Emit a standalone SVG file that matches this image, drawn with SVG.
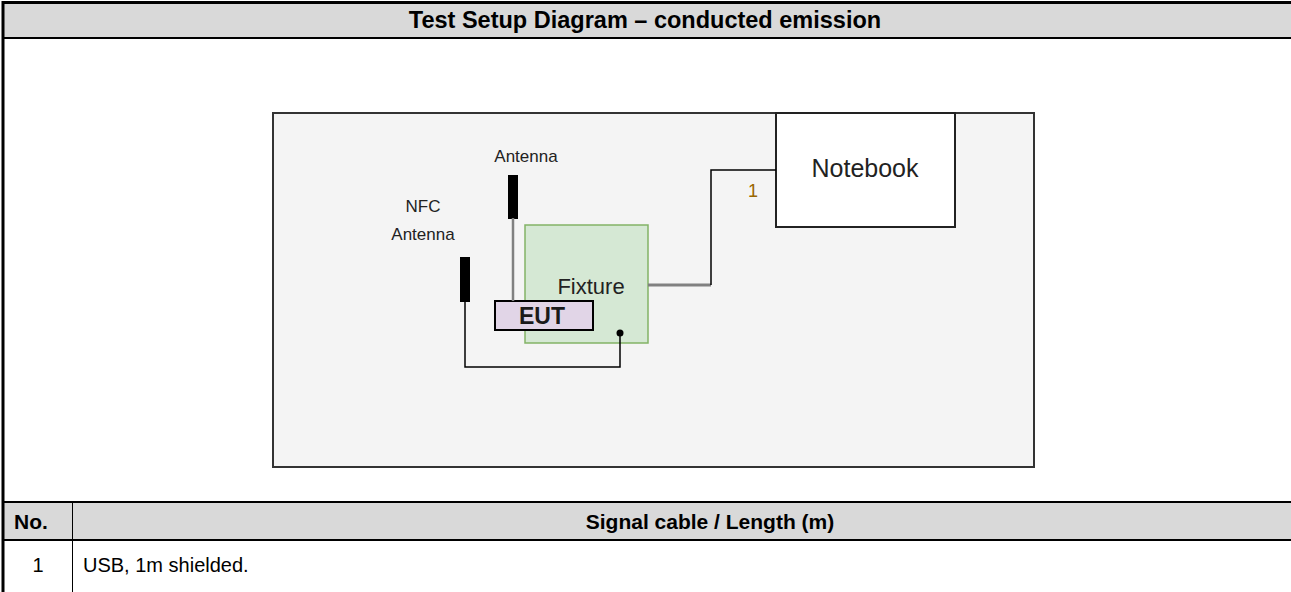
<svg xmlns="http://www.w3.org/2000/svg" width="1291" height="592" viewBox="0 0 1291 592">
<style>
text{font-family:"Liberation Sans",Arial,sans-serif;}
.hdr{font-weight:bold;fill:#000;}
.cell{font-size:20px;fill:#000;}
.lbl{font-size:17px;fill:#222;}
.big{font-size:22px;fill:#222;}
</style>
<rect x="0" y="0" width="1291" height="592" fill="#fff"/>
<g id="table">
<rect x="3" y="3" width="1288" height="35" fill="#d9d9d9"/>
<rect x="3" y="502" width="1288" height="38" fill="#d9d9d9"/>
<line x1="3" y1="2.5" x2="1291" y2="2.5" stroke="#000" stroke-width="3"/>
<line x1="3" y1="38" x2="1291" y2="38" stroke="#000" stroke-width="2"/>
<line x1="3" y1="502" x2="1291" y2="502" stroke="#000" stroke-width="2"/>
<line x1="3" y1="540" x2="1291" y2="540" stroke="#000" stroke-width="2"/>
<line x1="3" y1="1" x2="3" y2="592" stroke="#000" stroke-width="3"/>
<line x1="72.5" y1="502" x2="72.5" y2="592" stroke="#000" stroke-width="1"/>
<text class="hdr" x="645" y="28" font-size="23.5" text-anchor="middle">Test Setup Diagram – conducted emission</text>
<text class="hdr" x="14" y="529" font-size="21">No.</text>
<text class="hdr" x="710" y="529" font-size="21" text-anchor="middle">Signal cable / Length (m)</text>
<text class="cell" x="38" y="572" text-anchor="middle">1</text>
<text class="cell" x="83" y="572">USB, 1m shielded.</text>
</g>
<g id="setup-area">
<rect x="273" y="113" width="761" height="354" fill="#f4f4f4" stroke="#333" stroke-width="2"/>
</g>
<g id="fixture">
<rect x="525" y="225" width="123" height="118" fill="#d5e8d4" stroke="#82b366" stroke-width="1.5"/>
<text class="big" x="591" y="294" text-anchor="middle">Fixture</text>
</g>
<g id="eut">
<rect x="495" y="301" width="98" height="29" fill="#e1d5e7" stroke="#000" stroke-width="2"/>
<text x="542" y="324" font-size="23" font-weight="bold" fill="#1a1a1a" text-anchor="middle">EUT</text>
</g>
<g id="antenna">
<text class="lbl" x="526" y="162" text-anchor="middle">Antenna</text>
<rect x="508" y="175" width="10" height="44" fill="#000"/>
</g>
<g id="nfc-antenna">
<text class="lbl" x="423" y="212" text-anchor="middle">NFC</text>
<text class="lbl" x="423" y="240" text-anchor="middle">Antenna</text>
<rect x="460" y="257" width="10" height="45" fill="#000"/>
</g>
<g id="notebook">
<rect x="776" y="113" width="179" height="114" fill="#fff" stroke="#222" stroke-width="2"/>
<text x="865" y="177" font-size="25" fill="#222" text-anchor="middle">Notebook</text>
</g>
<g id="connectors" fill="none">
<line x1="513" y1="218" x2="513" y2="301" stroke="#808080" stroke-width="2.5"/>
<polyline points="465,302 465,367 620,367 620,333" stroke="#000" stroke-width="1.5"/>
<polyline points="648,285 711,285" stroke="#808080" stroke-width="3"/>
<polyline points="711,285 711,170 776,170" stroke="#000" stroke-width="1.5"/>
<circle cx="620" cy="333" r="3.5" fill="#000"/>
<text x="753" y="197" font-size="18" fill="#996600" text-anchor="middle">1</text>
</g>
</svg>
